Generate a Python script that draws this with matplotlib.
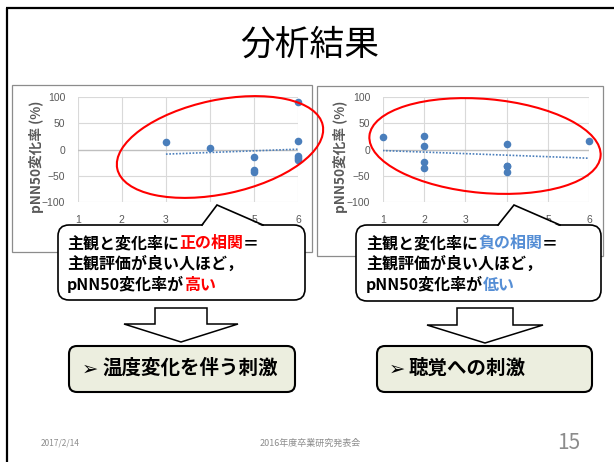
import matplotlib
matplotlib.use("Agg")
import numpy as np
import matplotlib.pyplot as plt
from matplotlib.patches import Ellipse, FancyBboxPatch, Polygon, Rectangle

# ---- data -------------------------------------------------------------
# subjective rating (x) vs pNN50 change rate in % (y)
temp_rating = [3, 4, 5, 5, 5, 6, 6, 6, 6, 6]
temp_change = [15, 3, -15, -38, -43, 90, 17, -12, -16, -20]

sound_rating = [1, 2, 2, 2, 2, 4, 4, 4, 4, 6]
sound_change = [24, 25, 7, -23, -35, 10, -31, -31, -43, 16]

x_ticks = [1, 2, 3, 4, 5, 6]
y_ticks = [-100, -50, 0, 50, 100]

title = "分析結果"
y_label = "pNN50変化率 (%)"
left_note = [[("主観と変化率に", "k"), ("正の相関", "red"), ("＝", "k")],
             [("主観評価が良い人ほど，", "k")],
             [("pNN50変化率が", "k"), ("高い", "red")]]
right_note = [[("主観と変化率に", "k"), ("負の相関", "#558ED5"), ("＝", "k")],
              [("主観評価が良い人ほど，", "k")],
              [("pNN50変化率が", "k"), ("低い", "#558ED5")]]
left_result = "温度変化を伴う刺激"
right_result = "聴覚への刺激"
footer_date = "2017/2/14"
footer_event = "2016年度卒業研究発表会"
page_no = "15"

CJK = ["Noto Sans CJK JP", "DejaVu Sans"]
W, H = 614, 462
BLUE = "#4A7EBB"
TICK = "#595959"

fig = plt.figure(figsize=(W / 100, H / 100), dpi=100)
fig.patch.set_facecolor("white")


def pixel_axes(z):
    a = fig.add_axes([0, 0, 1, 1], zorder=z)
    a.set_xlim(0, W)
    a.set_ylim(H, 0)
    a.axis("off")
    a.patch.set_alpha(0)
    return a


back = pixel_axes(0)
front = pixel_axes(10)

# slide edges
back.plot([6.5, 6.5], [8, H], color="black", lw=1.6, solid_capstyle="butt")
back.plot([6, W], [8.3, 8.3], color="black", lw=1.6, solid_capstyle="butt")

# chart frames
for (x0, y0, x1, y1) in [(12, 85, 312, 252), (317, 86, 603, 256)]:
    back.add_patch(Rectangle((x0, y0), x1 - x0, y1 - y0, fill=True,
                             facecolor="white", edgecolor="#8C8C8C", lw=0.9))


def scatter_panel(px0, px1, xs, ys):
    py_top, py_bot = 96.7, 202.3
    ax = fig.add_axes([px0 / W, (H - py_bot) / H, (px1 - px0) / W,
                       (py_bot - py_top) / H], zorder=5)
    ax.patch.set_alpha(0)
    ax.set_xlim(1, 6)
    ax.set_ylim(-100, 100)
    for s in ax.spines.values():
        s.set_visible(False)
    for xv in x_ticks:
        ax.axvline(xv, color="#D9D9D9", lw=0.8, zorder=1)
    for yv in y_ticks:
        ax.axhline(yv, color="#BFBFBF" if yv == 0 else "#D9D9D9",
                   lw=1.0 if yv == 0 else 0.8, zorder=1)
    ax.set_xticks(x_ticks)
    ax.set_yticks(y_ticks)
    ax.tick_params(length=0, labelsize=7.5, labelcolor=TICK, pad=9)
    for lab in ax.get_xticklabels() + ax.get_yticklabels():
        lab.set_family("Liberation Sans")
    xs = np.asarray(xs, float)
    ys = np.asarray(ys, float)
    ax.scatter(xs, ys, s=30, color=BLUE, zorder=3, linewidths=0, clip_on=False)
    k, b = np.polyfit(xs, ys, 1)
    xl = np.array([xs.min(), xs.max()])
    ax.plot(xl, k * xl + b, color=BLUE, lw=1.2, ls=(0, (1, 1)), zorder=2)
    return ax


scatter_panel(77.7, 298.3, temp_rating, temp_change)
scatter_panel(382.7, 589.3, sound_rating, sound_change)

for cx in (36, 341):
    front.text(cx, 157, y_label, rotation=90, ha="center", va="center",
               fontsize=9.8, fontweight="bold", color=TICK, family=CJK)

# title
front.text(310, 45, title, ha="center", va="center", fontsize=25,
           family=CJK, color="black")

# red ellipses
front.add_patch(Ellipse((220, 147), 210, 94, angle=-12, fill=False,
                        edgecolor="#FF0000", lw=1.5))
front.add_patch(Ellipse((485, 146), 232, 94, angle=5, fill=False,
                        edgecolor="#FF0000", lw=1.5))


def callout(x0, y0, x1, y1, base_l, apex, base_r, lines, tx):
    front.add_patch(FancyBboxPatch((x0, y0), x1 - x0, y1 - y0,
                                   boxstyle="round,pad=0,rounding_size=11",
                                   facecolor="white", edgecolor="black",
                                   lw=1.2, zorder=2))
    front.add_patch(Polygon([(base_l, y0 + 1.5), apex, (base_r, y0 + 1.5)],
                            closed=True, facecolor="white", edgecolor="none",
                            zorder=3))
    front.plot([base_l, apex[0], base_r], [y0, apex[1], y0], color="black",
               lw=1.2, zorder=4, solid_joinstyle="miter")
    for i, segs in enumerate(lines):
        y = 243 + i * 20.5
        prev = None
        for txt, col in segs:
            kw = dict(fontsize=11.5, fontweight="bold", color=col,
                      family=CJK, zorder=5)
            if prev is None:
                prev = front.text(tx, y, txt, ha="left", va="center", **kw)
            else:
                prev = front.annotate(txt, xy=(1, 0), xycoords=prev,
                                      ha="left", va="bottom", **kw)


callout(58, 225, 305, 300, 202, (217, 205), 263, left_note, 67)
callout(356, 225, 601, 301, 498, (514, 205), 560, right_note, 366)


def block_arrow(cx, shaft, head, top, neck, tip):
    pts = [(cx - shaft, top), (cx + shaft, top), (cx + shaft, neck),
           (cx + head, neck), (cx, tip), (cx - head, neck), (cx - shaft, neck)]
    front.add_patch(Polygon(pts, closed=True, facecolor="white",
                            edgecolor="black", lw=1.1, joinstyle="miter"))


block_arrow(181, 26, 57, 308, 324, 342)
block_arrow(485, 28, 58, 308, 325, 343)


def result_box(x0, x1, text, tx):
    front.add_patch(FancyBboxPatch((x0, 346), x1 - x0, 46,
                                   boxstyle="round,pad=0,rounding_size=8",
                                   facecolor="#ECEEDF", edgecolor="black",
                                   lw=1.5))
    front.text(tx - 20, 369, "➢", ha="left", va="center", fontsize=14,
               family=["DejaVu Sans"], color="black")
    front.text(tx, 368, text, ha="left", va="center", fontsize=14,
               fontweight="bold", family=CJK, color="black")


result_box(69, 295, left_result, 102)
result_box(377, 592, right_result, 409)

# footer
front.text(41, 443, footer_date, ha="left", va="center", fontsize=6,
           color="#8C8C8C", family=CJK)
front.text(310, 443, footer_event, ha="center", va="center", fontsize=6.5,
           color="#8C8C8C", family=CJK)
front.text(580, 443, page_no, ha="right", va="center", fontsize=15,
           color="#8C8C8C", family=CJK)

fig.savefig("out.png", dpi=100, facecolor="white")
